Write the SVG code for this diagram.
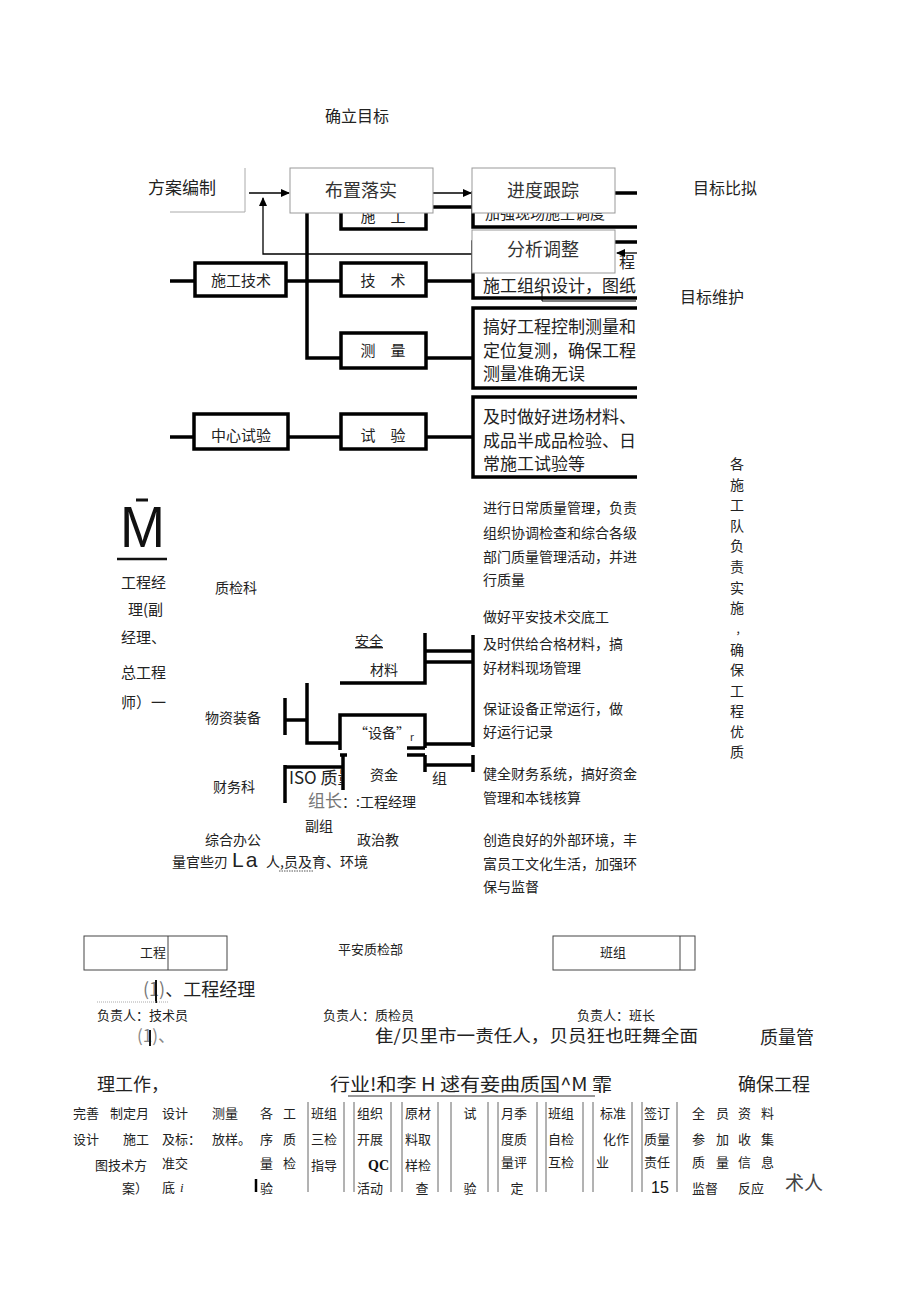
<svg xmlns="http://www.w3.org/2000/svg" width="920" height="1301" viewBox="0 0 920 1301">
<style>
.t{font-family:"Noto Sans CJK SC","Liberation Serif",serif;fill:#222;font-size:14px}
.s15{font-size:15px}.s16{font-size:16px}.s17{font-size:17px}.s18{font-size:18px}.s13{font-size:13px}
.c{text-anchor:middle}
.g{fill:#333}
.thick{stroke:#000;stroke-width:3.5;fill:#fff}
.tl{stroke:#000;stroke-width:3.5;fill:none}
.thin{stroke:#999;stroke-width:1;fill:#fff}
.ln{stroke:#000;stroke-width:1.3;fill:none}
.cell{stroke:#666;stroke-width:1;fill:none}
.bx{stroke:#444;stroke-width:1;fill:none}
</style>
<defs>
<marker id="ar" markerWidth="9" markerHeight="8" refX="8" refY="4" orient="auto" markerUnits="userSpaceOnUse"><path d="M0,0 L9,4 L0,8 z" fill="#000"/></marker>
<clipPath id="cr"><rect x="0" y="0" width="637" height="1301"/></clipPath>
<clipPath id="cv"><rect x="700" y="440" width="80" height="320"/></clipPath>
<clipPath id="ci"><rect x="280" y="760" width="62" height="40"/></clipPath>
</defs>
<rect width="920" height="1301" fill="#fff"/>

<g id="n-queli"><text class="t s16" x="325" y="122">确立目标</text></g>
<g id="n-fangan"><polyline points="170,212 245,212 245,168" fill="none" stroke="#aaa" stroke-width="1"/><text class="t s17" x="148" y="194">方案编制</text></g>
<g id="n-mubiao1"><text class="t s16" x="693" y="194">目标比拟</text></g>
<g id="n-mubiao2"><text class="t s16" x="680" y="303">目标维护</text></g>

<g clip-path="url(#cr)">
<g id="n-shigong"><rect class="thick" x="341" y="185" width="85" height="44"/><text class="t s15 c" x="383" y="222">施　工</text></g>
<g id="n-jiaqiang"><rect class="thick" x="473" y="193" width="180" height="34"/><text class="t s15" x="485" y="219">加强现场施工调度</text></g>
<g id="n-zuzhi"><rect class="thick" x="473" y="242" width="180" height="56"/><text class="t s17" x="483" y="292">施工组织设计，图纸</text><text class="t s16" x="619" y="268">程</text></g>
<g id="n-gaohao"><rect class="thick" x="473" y="308" width="180" height="80"/><text class="t s17" x="483" y="333">搞好工程控制测量和</text><text class="t s17" x="483" y="357">定位复测，确保工程</text><text class="t s17" x="483" y="380">测量准确无误</text></g>
<g id="n-jishi"><rect class="thick" x="473" y="397" width="180" height="80"/><text class="t s17" x="483" y="423">及时做好进场材料、</text><text class="t s17" x="483" y="447">成品半成品检验、日</text><text class="t s17" x="483" y="470">常施工试验等</text></g>
<g id="connectors">
<line class="ln" x1="249" y1="193" x2="289" y2="193" marker-end="url(#ar)"/>
<polyline class="ln" points="472,254 263,254 263,198" marker-end="url(#ar)"/>
<line class="ln" x1="433" y1="193" x2="471" y2="193" marker-end="url(#ar)"/>
<line class="ln" x1="640" y1="253" x2="617" y2="253" marker-end="url(#ar)"/>
<polyline points="542,287 542,301 636,301" fill="none" stroke="#000" stroke-width="1"/>
<line class="tl" x1="426" y1="207" x2="473" y2="207"/>
<polyline class="tl" points="307,213 307,358 341,358"/>
<line class="tl" x1="170" y1="281" x2="195" y2="281"/>
<line class="tl" x1="286" y1="281" x2="341" y2="281"/>
<line class="tl" x1="426" y1="281" x2="473" y2="281"/>
<line class="tl" x1="426" y1="358" x2="473" y2="358"/>
<line class="tl" x1="170" y1="437" x2="194" y2="437"/>
<line class="tl" x1="288" y1="437" x2="341" y2="437"/>
<line class="tl" x1="426" y1="437" x2="473" y2="437"/>
<polyline class="tl" points="340,683 425,683 425,633"/>
<line class="tl" x1="425" y1="651" x2="473" y2="651"/>
<line class="tl" x1="425" y1="662" x2="473" y2="662"/>
<line class="tl" x1="473" y1="635" x2="473" y2="747"/>
<line class="tl" x1="473" y1="755" x2="473" y2="772"/>
<line class="tl" x1="285" y1="698" x2="285" y2="735"/>
<line class="tl" x1="285" y1="720" x2="307" y2="720"/>
<polyline class="tl" points="307,683 307,743 340,743"/>
<polyline class="tl" points="340,750 340,715 425,715 425,748"/>
<line class="tl" x1="425" y1="744" x2="473" y2="744"/>
<line class="tl" x1="407" y1="748" x2="425" y2="748"/>
<line class="tl" x1="340" y1="755" x2="347" y2="755"/>
<line class="tl" x1="407" y1="755" x2="425" y2="755"/>
<line class="tl" x1="343" y1="755" x2="343" y2="790"/>
<line class="tl" x1="425" y1="755" x2="425" y2="772"/>
<line class="tl" x1="425" y1="765" x2="473" y2="765"/>
<line class="tl" x1="285" y1="765" x2="285" y2="803"/>
<line class="tl" x1="285" y1="767" x2="343" y2="767"/>
</g>
<g id="n-buzhi"><rect class="thin" x="290" y="168" width="143" height="45"/><text class="t s18 c g" x="361" y="197">布置落实</text></g>
<g id="n-jindu"><rect class="thin" x="472" y="168" width="143" height="45"/><text class="t s18 c g" x="543" y="197">进度跟踪</text></g>
<g id="n-fenxi"><rect class="thin" x="472" y="230" width="143" height="43"/><text class="t s18 c g" x="543" y="256">分析调整</text></g>
</g>

<g id="n-sgjs"><rect class="thick" x="195" y="263" width="91" height="33"/><text class="t s15 c" x="241" y="286">施工技术</text></g>
<g id="n-jishu"><rect class="thick" x="341" y="263" width="85" height="33"/><text class="t s15 c" x="383" y="286">技　术</text></g>
<g id="n-celiang"><rect class="thick" x="341" y="333" width="85" height="35"/><text class="t s15 c" x="383" y="356">测　量</text></g>
<g id="n-zxsy"><rect class="thick" x="194" y="414" width="94" height="35"/><text class="t s15 c" x="241" y="441">中心试验</text></g>
<g id="n-shiyan"><rect class="thick" x="341" y="414" width="85" height="35"/><text class="t s15 c" x="383" y="441">试　验</text></g>

<g id="n-m">
<text x="120" y="547" font-family="Liberation Sans,sans-serif" font-size="58" textLength="45" lengthAdjust="spacingAndGlyphs" fill="#111">M</text>
<line x1="136" y1="500" x2="148" y2="500" stroke="#111" stroke-width="3"/>
<line x1="117" y1="559" x2="167" y2="559" stroke="#111" stroke-width="2.5"/>
</g>
<g id="n-jingli">
<text class="t s15" x="121" y="588">工程经</text>
<text class="t s15" x="128" y="615">理(副</text>
<text class="t s15" x="121" y="643">经理、</text>
<text class="t s15" x="121" y="678">总工程</text>
<text class="t s15" x="121" y="708">师）一</text>
</g>
<g id="n-depts">
<text class="t" x="215" y="593">质检科</text>
<text class="t" x="355" y="646" text-decoration="underline">安全</text>
<text class="t" x="370" y="675">材料</text>
<text class="t" x="205" y="723">物资装备</text>
<text class="t" x="354" y="738">“设备”<tspan font-size="10" dy="3">r</tspan></text>
<text class="t" x="213" y="792">财务科</text>
<g clip-path="url(#ci)"><text class="t s17" x="289" y="784" fill="#777">ISO 质量</text></g>
<text class="t" x="370" y="780">资金</text>
<text class="t s15" x="432" y="784">组</text>
<text class="t" x="308" y="807"><tspan font-size="17" fill="#777">组长</tspan>：:工程经理</text>
<text class="t" x="305" y="831">副组</text>
<text class="t" x="205" y="845">综合办公</text>
<text class="t" x="357" y="845">政治教</text>
<text class="t" x="172" y="867">量官些刃 <tspan font-family="Liberation Sans,sans-serif" font-size="21" x="232" letter-spacing="2">La</tspan><tspan x="266">人,员及育、环境</tspan></text>
<line x1="279" y1="871" x2="313" y2="871" stroke="#555" stroke-width="1" stroke-dasharray="1.5,1"/>
</g>
<g id="n-desc">
<text class="t" x="483" y="513">进行日常质量管理，负责</text>
<text class="t" x="483" y="538">组织协调检查和综合各级</text>
<text class="t" x="483" y="562">部门质量管理活动，并进</text>
<text class="t" x="483" y="585">行质量</text>
<text class="t" x="483" y="622">做好平安技术交底工</text>
<text class="t" x="483" y="649">及时供给合格材料，搞</text>
<text class="t" x="483" y="673">好材料现场管理</text>
<text class="t" x="483" y="714">保证设备正常运行，做</text>
<text class="t" x="483" y="737">好运行记录</text>
<text class="t" x="483" y="779">健全财务系统，搞好资金</text>
<text class="t" x="483" y="803">管理和本钱核算</text>
<text class="t" x="483" y="845">创造良好的外部环境，丰</text>
<text class="t" x="483" y="869">富员工文化生活，加强环</text>
<text class="t" x="483" y="892">保与监督</text>
</g>
<g id="n-vertical" clip-path="url(#cv)">
<text class="t c" x="737" y="469">各</text>
<text class="t c" x="737" y="490">施</text>
<text class="t c" x="737" y="510">工</text>
<text class="t c" x="737" y="531">队</text>
<text class="t c" x="737" y="551">负</text>
<text class="t c" x="737" y="572">责</text>
<text class="t c" x="737" y="593">实</text>
<text class="t c" x="737" y="613">施</text>
<text class="t c" x="741" y="634" style="font-size:11px">，</text>
<text class="t c" x="737" y="655">确</text>
<text class="t c" x="737" y="675">保</text>
<text class="t c" x="737" y="696">工</text>
<text class="t c" x="737" y="716">程</text>
<text class="t c" x="737" y="737">优</text>
<text class="t c" x="737" y="757">质</text>
<text class="t c" x="737" y="778">控</text>
</g>

<g id="n-gongcheng"><rect class="bx" x="84" y="936" width="143" height="34"/><line class="bx" x1="168" y1="936" x2="168" y2="970"/><text class="t s13" x="140" y="957">工程</text></g>
<g id="n-pingan"><text class="t s13" x="338" y="954">平安质检部</text></g>
<g id="n-banzu"><rect class="bx" x="553" y="936" width="142" height="34"/><line class="bx" x1="680" y1="936" x2="680" y2="970"/><text class="t s13" x="600" y="957">班组</text></g>

<g id="n-bottomtext">
<text class="t s18" x="143" y="996"><tspan fill="#777">(1)</tspan>、工程经理</text>
<line x1="156" y1="980" x2="156" y2="1003" stroke="#111" stroke-width="2"/>
<line x1="97" y1="1002" x2="168" y2="1002" stroke="#aaa" stroke-width="1" stroke-dasharray="1,1"/>
<text class="t s13" x="97" y="1020">负责人：技术员</text>
<text class="t s13" x="323" y="1020">负责人：质检员</text>
<text class="t s13" x="577" y="1020">负责人：班长</text>
<text class="t s17" x="137" y="1042" style="fill:#888">(1)、</text>
<line x1="150" y1="1030" x2="150" y2="1046" stroke="#111" stroke-width="2"/>
<text class="t s17" x="375" y="1042" textLength="323" lengthAdjust="spacingAndGlyphs">隹/贝里市一责任人，贝员狂也旺舞全面</text>
<text class="t s18" x="760" y="1044">质量管</text>
<text class="t s18" x="97" y="1091">理工作，</text>
<text class="t s18" x="330" y="1091" textLength="282" lengthAdjust="spacingAndGlyphs">行业!和李 H 逑有妾曲质国^M 霏</text>
<line x1="348" y1="1096" x2="595" y2="1096" stroke="#333" stroke-width="1.2"/>
<text class="t s18" x="738" y="1091">确保工程</text>
</g>

<g id="n-table">
<text class="t s13" x="73" y="1118">完善</text>
<text class="t s13" x="110" y="1118">制定月</text>
<text class="t s13" x="73" y="1144">设计</text>
<text class="t s13" x="123" y="1144">施工</text>
<text class="t s13" x="95" y="1170">图技术方</text>
<text class="t s13" x="122" y="1193">案）</text>
<text class="t s13" x="162" y="1118">设计</text>
<text class="t s13" x="162" y="1144">及标：</text>
<text class="t s13" x="162" y="1168">准交</text>
<text class="t s13" x="162" y="1192">底 <tspan font-family="Liberation Serif,serif" font-style="italic" x="180">i</tspan></text>
<text class="t s13" x="212" y="1118">测量</text>
<text class="t s13" x="212" y="1144">放样。</text>
<text class="t s13" x="260" y="1118">各</text><text class="t s13" x="283" y="1118">工</text>
<text class="t s13" x="260" y="1144">序</text><text class="t s13" x="283" y="1144">质</text>
<text class="t s13" x="260" y="1168">量</text><text class="t s13" x="283" y="1168">检</text>
<text class="t s13" x="260" y="1193">验</text>
<line x1="256" y1="1179" x2="256" y2="1192" stroke="#000" stroke-width="2.5"/>
<g class="cell">
<line x1="308" y1="1102" x2="308" y2="1192"/><line x1="344" y1="1102" x2="344" y2="1192"/>
<line x1="354" y1="1102" x2="354" y2="1192"/><line x1="391" y1="1102" x2="391" y2="1192"/>
<line x1="402" y1="1102" x2="402" y2="1192"/><line x1="438" y1="1102" x2="438" y2="1192"/>
<line x1="451" y1="1102" x2="451" y2="1192"/><line x1="488" y1="1102" x2="488" y2="1192"/>
<line x1="498" y1="1102" x2="498" y2="1192"/><line x1="537" y1="1102" x2="537" y2="1192"/>
<line x1="546" y1="1102" x2="546" y2="1192"/><line x1="583" y1="1102" x2="583" y2="1192"/>
<line x1="593" y1="1102" x2="593" y2="1192"/><line x1="632" y1="1102" x2="632" y2="1192"/>
<line x1="642" y1="1102" x2="642" y2="1192"/><line x1="677" y1="1102" x2="677" y2="1192"/>
</g>
<text class="t s13" x="311" y="1118">班组</text>
<text class="t s13" x="311" y="1144">三检</text>
<text class="t s13" x="311" y="1170">指导</text>
<text class="t s13" x="357" y="1118">组织</text>
<text class="t s13" x="357" y="1144">开展</text>
<text x="389" y="1170" text-anchor="end" font-family="Liberation Serif,serif" font-weight="bold" font-size="14" fill="#111">QC</text>
<text class="t s13" x="357" y="1193">活动</text>
<text class="t s13" x="405" y="1118">原材</text>
<text class="t s13" x="405" y="1144">料取</text>
<text class="t s13" x="405" y="1170">样检</text>
<text class="t s13 c" x="422" y="1193">查</text>
<text class="t s13 c" x="470" y="1118">试</text>
<text class="t s13 c" x="470" y="1193">验</text>
<text class="t s13" x="501" y="1118">月季</text>
<text class="t s13" x="501" y="1144">度质</text>
<text class="t s13" x="501" y="1167">量评</text>
<text class="t s13 c" x="517" y="1193">定</text>
<text class="t s13" x="548" y="1118">班组</text>
<text class="t s13" x="548" y="1144">自检</text>
<text class="t s13" x="548" y="1167">互检</text>
<text class="t s13" x="600" y="1118">标准</text>
<text class="t s13" x="603" y="1144">化作</text>
<text class="t s13" x="596" y="1167">业</text>
<text class="t s13" x="644" y="1118">签订</text>
<text class="t s13" x="644" y="1144">质量</text>
<text class="t s13" x="644" y="1167">责任</text>
<text x="651" y="1193" font-family="Liberation Sans,sans-serif" font-size="16" fill="#111">15</text>
<text class="t s13" x="692" y="1118">全</text><text class="t s13" x="716" y="1118">员</text>
<text class="t s13" x="692" y="1144">参</text><text class="t s13" x="716" y="1144">加</text>
<text class="t s13" x="692" y="1167">质</text><text class="t s13" x="716" y="1167">量</text>
<text class="t s13" x="692" y="1193">监督</text>
<text class="t s13" x="738" y="1118">资</text><text class="t s13" x="761" y="1118">料</text>
<text class="t s13" x="738" y="1144">收</text><text class="t s13" x="761" y="1144">集</text>
<text class="t s13" x="738" y="1167">信</text><text class="t s13" x="761" y="1167">息</text>
<text class="t s13" x="738" y="1193">反应</text>
<text class="t" x="785" y="1190" style="font-size:19px;fill:#444">术人</text>
</g>
</svg>
